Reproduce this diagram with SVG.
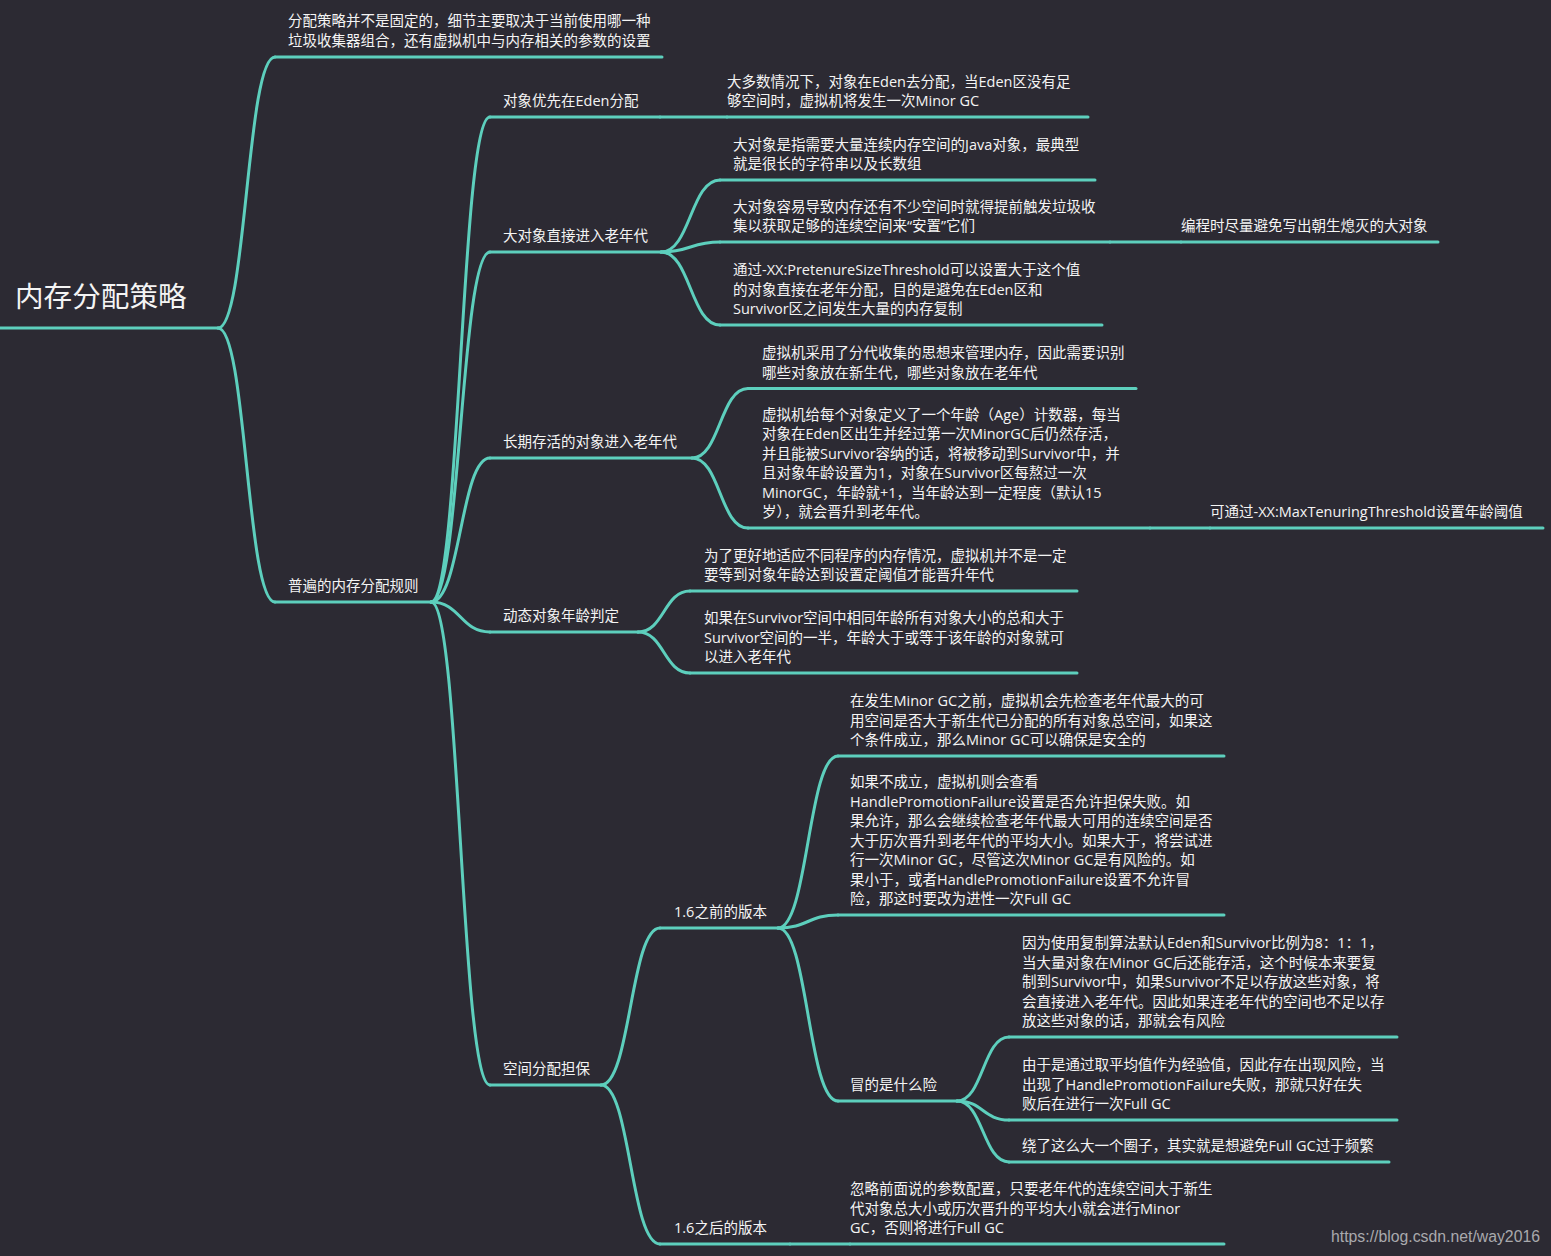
<svg xmlns="http://www.w3.org/2000/svg" width="1551" height="1256" viewBox="0 0 1551 1256">
<style>
.t{font-family:"Open Sans","Noto Sans CJK SC",sans-serif;font-size:14.5px;fill:#f4f4f4}
.root{font-family:"Noto Sans CJK SC",sans-serif;font-size:28.6px;fill:#f4f4f4}
.u,.c{stroke:#5dcfbd;stroke-width:3;fill:none;stroke-linecap:round}
.wm{font-family:"Liberation Sans",Arial,sans-serif;font-size:15.8px;fill:#a9a9ad}
</style>
<rect x="0" y="0" width="1551" height="1256" fill="#2c2a33"/>
<g id="connectors">
<path class="c" d="M218,328 C246.5,328 246.5,57 275,57"/>
<path class="c" d="M218,328 C246.5,328 246.5,602 275,602"/>
<path class="c" d="M431,602 C460.5,602 460.5,117 490,117"/>
<path class="c" d="M431,602 C460.5,602 460.5,252 490,252"/>
<path class="c" d="M431,602 C460.5,602 460.5,458 490,458"/>
<path class="c" d="M431,602 C460.5,602 460.5,632 490,632"/>
<path class="c" d="M431,602 C460.5,602 460.5,1085 490,1085"/>
<path class="c" d="M661,252 C690.5,252 690.5,180 720,180"/>
<path class="c" d="M661,252 C690.5,252 690.5,242 720,242"/>
<path class="c" d="M661,252 C690.5,252 690.5,325 720,325"/>
<path class="c" d="M692,458 C720,458 720,388.5 748,388.5"/>
<path class="c" d="M692,458 C720,458 720,528 748,528"/>
<path class="c" d="M638,632 C664,632 664,591 690,591"/>
<path class="c" d="M638,632 C664,632 664,673 690,673"/>
<path class="c" d="M601,1085 C630.5,1085 630.5,928 660,928"/>
<path class="c" d="M601,1085 C630.5,1085 630.5,1244 660,1244"/>
<path class="c" d="M778,928 C808,928 808,756 838,756"/>
<path class="c" d="M778,928 C808,928 808,915 838,915"/>
<path class="c" d="M778,928 C808,928 808,1101 838,1101"/>
<path class="c" d="M957,1101 C983,1101 983,1037 1009,1037"/>
<path class="c" d="M957,1101 C983,1101 983,1120 1009,1120"/>
<path class="c" d="M957,1101 C983,1101 983,1162 1009,1162"/>
<path class="c" d="M660,117 H727"/>
<path class="c" d="M1110,242 H1181"/>
<path class="c" d="M1150,528 H1210"/>
<path class="c" d="M790,1244 H850"/>
</g>
<g id="root">
<path class="u" d="M0,328 H218"/>
<text class="root" x="15" y="307">内存分配策略</text>
</g>
<g id="n-policy">
<path class="u" d="M275,57 H662"/>
<text class="t"><tspan x="288" y="26">分配策略并不是固定的，细节主要取决于当前使用哪一种</tspan><tspan x="288" y="46">垃圾收集器组合，还有虚拟机中与内存相关的参数的设置</tspan></text>
</g>
<g id="n-rules">
<path class="u" d="M275,602 H431"/>
<text class="t" x="288" y="591">普遍的内存分配规则</text>
</g>
<g id="n-eden">
<path class="u" d="M490,117 H660"/>
<text class="t" x="503" y="106">对象优先在Eden分配</text>
</g>
<g id="n-eden-1">
<path class="u" d="M727,117 H1088"/>
<text class="t"><tspan x="727" y="86.5">大多数情况下，对象在Eden去分配，当Eden区没有足</tspan><tspan x="727" y="106">够空间时，虚拟机将发生一次Minor GC</tspan></text>
</g>
<g id="n-big">
<path class="u" d="M490,252 H661"/>
<text class="t" x="503" y="241">大对象直接进入老年代</text>
</g>
<g id="n-big-1">
<path class="u" d="M720,180 H1095"/>
<text class="t"><tspan x="733" y="149.5">大对象是指需要大量连续内存空间的Java对象，最典型</tspan><tspan x="733" y="169">就是很长的字符串以及长数组</tspan></text>
</g>
<g id="n-big-2">
<path class="u" d="M720,242 H1110"/>
<text class="t"><tspan x="733" y="211.5">大对象容易导致内存还有不少空间时就得提前触发垃圾收</tspan><tspan x="733" y="231">集以获取足够的连续空间来“安置”它们</tspan></text>
</g>
<g id="n-big-2-1">
<path class="u" d="M1181,242 H1438"/>
<text class="t" x="1181" y="231">编程时尽量避免写出朝生熄灭的大对象</text>
</g>
<g id="n-big-3">
<path class="u" d="M720,325 H1102"/>
<text class="t"><tspan x="733" y="275">通过-XX:PretenureSizeThreshold可以设置大于这个值</tspan><tspan x="733" y="294.5">的对象直接在老年分配，目的是避免在Eden区和</tspan><tspan x="733" y="314">Survivor区之间发生大量的内存复制</tspan></text>
</g>
<g id="n-long">
<path class="u" d="M490,458 H692"/>
<text class="t" x="503" y="447">长期存活的对象进入老年代</text>
</g>
<g id="n-long-1">
<path class="u" d="M748,388.5 H1136"/>
<text class="t"><tspan x="762" y="358">虚拟机采用了分代收集的思想来管理内存，因此需要识别</tspan><tspan x="762" y="377.5">哪些对象放在新生代，哪些对象放在老年代</tspan></text>
</g>
<g id="n-long-2">
<path class="u" d="M748,528 H1150"/>
<text class="t"><tspan x="762" y="419.5">虚拟机给每个对象定义了一个年龄（Age）计数器，每当</tspan><tspan x="762" y="439">对象在Eden区出生并经过第一次MinorGC后仍然存活，</tspan><tspan x="762" y="458.5">并且能被Survivor容纳的话，将被移动到Survivor中，并</tspan><tspan x="762" y="478">且对象年龄设置为1，对象在Survivor区每熬过一次</tspan><tspan x="762" y="497.5">MinorGC，年龄就+1，当年龄达到一定程度（默认15</tspan><tspan x="762" y="517">岁），就会晋升到老年代。</tspan></text>
</g>
<g id="n-long-2-1">
<path class="u" d="M1210,528 H1543"/>
<text class="t" x="1210" y="517">可通过-XX:MaxTenuringThreshold设置年龄阈值</text>
</g>
<g id="n-dyn">
<path class="u" d="M490,632 H638"/>
<text class="t" x="503" y="621">动态对象年龄判定</text>
</g>
<g id="n-dyn-1">
<path class="u" d="M690,591 H1077"/>
<text class="t"><tspan x="704" y="560.5">为了更好地适应不同程序的内存情况，虚拟机并不是一定</tspan><tspan x="704" y="580">要等到对象年龄达到设置定阈值才能晋升年代</tspan></text>
</g>
<g id="n-dyn-2">
<path class="u" d="M690,673 H1077"/>
<text class="t"><tspan x="704" y="623">如果在Survivor空间中相同年龄所有对象大小的总和大于</tspan><tspan x="704" y="642.5">Survivor空间的一半，年龄大于或等于该年龄的对象就可</tspan><tspan x="704" y="662">以进入老年代</tspan></text>
</g>
<g id="n-guar">
<path class="u" d="M490,1085 H601"/>
<text class="t" x="503" y="1074">空间分配担保</text>
</g>
<g id="n-pre">
<path class="u" d="M660,928 H778"/>
<text class="t" x="674" y="917">1.6之前的版本</text>
</g>
<g id="n-pre-1">
<path class="u" d="M838,756 H1224"/>
<text class="t"><tspan x="850" y="706">在发生Minor GC之前，虚拟机会先检查老年代最大的可</tspan><tspan x="850" y="725.5">用空间是否大于新生代已分配的所有对象总空间，如果这</tspan><tspan x="850" y="745">个条件成立，那么Minor GC可以确保是安全的</tspan></text>
</g>
<g id="n-pre-2">
<path class="u" d="M838,915 H1224"/>
<text class="t"><tspan x="850" y="787">如果不成立，虚拟机则会查看</tspan><tspan x="850" y="806.5">HandlePromotionFailure设置是否允许担保失败。如</tspan><tspan x="850" y="826">果允许，那么会继续检查老年代最大可用的连续空间是否</tspan><tspan x="850" y="845.5">大于历次晋升到老年代的平均大小。如果大于，将尝试进</tspan><tspan x="850" y="865">行一次Minor GC，尽管这次Minor GC是有风险的。如</tspan><tspan x="850" y="884.5">果小于，或者HandlePromotionFailure设置不允许冒</tspan><tspan x="850" y="904">险，那这时要改为进性一次Full GC</tspan></text>
</g>
<g id="n-risk">
<path class="u" d="M838,1101 H957"/>
<text class="t" x="850" y="1090">冒的是什么险</text>
</g>
<g id="n-risk-1">
<path class="u" d="M1009,1037 H1397"/>
<text class="t"><tspan x="1022" y="948">因为使用复制算法默认Eden和Survivor比例为8：1：1，</tspan><tspan x="1022" y="967.5">当大量对象在Minor GC后还能存活，这个时候本来要复</tspan><tspan x="1022" y="987">制到Survivor中，如果Survivor不足以存放这些对象，将</tspan><tspan x="1022" y="1006.5">会直接进入老年代。因此如果连老年代的空间也不足以存</tspan><tspan x="1022" y="1026">放这些对象的话，那就会有风险</tspan></text>
</g>
<g id="n-risk-2">
<path class="u" d="M1009,1120 H1397"/>
<text class="t"><tspan x="1022" y="1070">由于是通过取平均值作为经验值，因此存在出现风险，当</tspan><tspan x="1022" y="1089.5">出现了HandlePromotionFailure失败，那就只好在失</tspan><tspan x="1022" y="1109">败后在进行一次Full GC</tspan></text>
</g>
<g id="n-risk-3">
<path class="u" d="M1009,1162 H1389"/>
<text class="t" x="1022" y="1151">绕了这么大一个圈子，其实就是想避免Full GC过于频繁</text>
</g>
<g id="n-post">
<path class="u" d="M660,1244 H790"/>
<text class="t" x="674" y="1233">1.6之后的版本</text>
</g>
<g id="n-post-1">
<path class="u" d="M850,1244 H1224"/>
<text class="t"><tspan x="850" y="1194">忽略前面说的参数配置，只要老年代的连续空间大于新生</tspan><tspan x="850" y="1213.5">代对象总大小或历次晋升的平均大小就会进行Minor</tspan><tspan x="850" y="1233">GC，否则将进行Full GC</tspan></text>
</g>
<text class="wm" x="1331" y="1242">https://blog.csdn.net/way2016</text>
</svg>
